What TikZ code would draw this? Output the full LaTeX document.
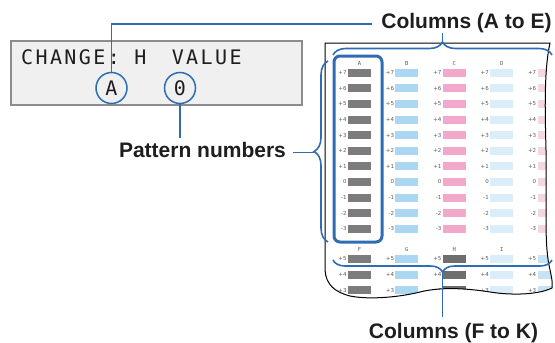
\documentclass[tikz,border=0pt]{standalone}
\usepackage{fontspec}
\setmainfont{Liberation Sans}
\newfontfamily\lcdfont{DejaVu Sans Mono}
\newfontfamily\lcdtrack[LetterSpace=12]{DejaVu Sans Mono}
\newfontfamily\tinyfont{DejaVu Sans}
\usetikzlibrary{decorations.pathreplacing,calc}
\definecolor{cblue}{HTML}{2E6DB4}
\definecolor{lcdbg}{HTML}{F0F0F1}
\definecolor{lcdborder}{HTML}{8C8C8C}
\definecolor{barA}{HTML}{7C7C7C}
\definecolor{barB}{HTML}{ABD7F2}
\definecolor{barC}{HTML}{F2A8CA}
\definecolor{barD}{HTML}{DAEDF8}
\definecolor{barE}{HTML}{F5D7E4}
\definecolor{barH}{HTML}{6E6E6E}
\definecolor{barJ}{HTML}{C6E3F6}
\definecolor{txt}{HTML}{1E1E1E}
\definecolor{rowtxt}{HTML}{5A5A5A}
\begin{document}
\begin{tikzpicture}[x=1pt,y=-1pt,
  conn/.style={draw=cblue,line width=1.5pt},
  bracestyle/.style={draw=cblue,line width=1.6pt,decorate,decoration={brace,amplitude=#1}},
  lbl/.style={font=\bfseries\fontsize{21}{24}\selectfont,text=txt,inner sep=0pt},
  lcdtext/.style={font=\lcdtrack\fontsize{20}{22}\selectfont,text=txt,inner sep=0pt},
  circ/.style={circle,draw=cblue,line width=1.5pt,fill=lcdbg,minimum size=31pt,inner sep=0pt,
    font=\lcdfont\fontsize{20}{22}\selectfont,text=txt},
  rowlab/.style={font=\tinyfont\fontsize{5.5}{6}\selectfont,text=rowtxt,inner sep=0pt,anchor=east},
  collab/.style={font=\lcdfont\fontsize{5.5}{6}\selectfont,text=rowtxt,inner sep=0pt},
  paperedge/.style={draw=black,line width=1pt},
  hl/.style={draw=cblue,line width=3pt,rounded corners=6pt}
]
\useasboundingbox (0,0) rectangle (555,343);
\fill[white] (0,0) rectangle (555,343);

% LCD panel
\node[draw=lcdborder,line width=1.6pt,fill=lcdbg,minimum width=291pt,minimum height=64pt,
  inner sep=0pt,anchor=north west] (lcd) at (10,40) {};
\node[lcdtext,anchor=base west] (lcdline) at (21,64.5) {CHANGE: H\hspace{11pt} VALUE};
\node[circ] (cA) at (111.5,88) {A};
\node[circ] (c0) at (180,88) {0};

% paper
\fill[white] (325,43) -- (550,43) .. controls (544,70) and (545,110) .. (546,150)
  .. controls (547,200) and (544,240) .. (549,265) .. controls (551,275) and (553,282) .. (552,288)
  .. controls (540,294) and (515,296) .. (490,292) .. controls (465,288) and (440,287) .. (420,292)
  .. controls (400,297) and (370,300) .. (350,296) .. controls (335,292) and (326,285) .. (325,270) -- cycle;
\begin{scope}
\clip (325,43) -- (550,43) .. controls (544,70) and (545,110) .. (546,150)
  .. controls (547,200) and (544,240) .. (549,265) .. controls (551,275) and (553,282) .. (552,288)
  .. controls (540,294) and (515,296) .. (490,292) .. controls (465,288) and (440,287) .. (420,292)
  .. controls (400,297) and (370,300) .. (350,296) .. controls (335,292) and (326,285) .. (325,270) -- cycle;
% upper block
\foreach \lab/\fc [count=\ci from 0] in {A/barA,B/barB,C/barC,D/barD,E/barE} {
  \pgfmathsetmacro\bx{348+47.4*\ci}
  \node[collab] (col\lab) at (\bx+11.5,63) {\lab};
  \foreach \v [count=\ri from 0] in {+7,+6,+5,+4,+3,+2,+1,0,-1,-2,-3} {
    \pgfmathsetmacro\by{72.7+15.6*\ri}
    \fill[\fc] (\bx,\by-4) rectangle ++(23,8);
    \node[rowlab] (n\lab\ri) at (\bx-1.2,\by) {\v};
  }
}
% lower block
\foreach \lab/\fc [count=\ci from 0] in {F/barA,G/barB,H/barH,I/barD,J/barJ} {
  \pgfmathsetmacro\bx{348+47.4*\ci}
  \node[collab] (col\lab) at (\bx+11.5,249) {\lab};
  \foreach \v [count=\ri from 0] in {+5,+4,+3} {
    \pgfmathsetmacro\by{259+15.6*\ri}
    \fill[\fc] (\bx,\by-4) rectangle ++(23,8);
    \node[rowlab] (n\lab\ri) at (\bx-1.2,\by) {\v};
  }
}
\end{scope}
\draw[paperedge] (325,43) -- (550,43) .. controls (544,70) and (545,110) .. (546,150)
  .. controls (547,200) and (544,240) .. (549,265) .. controls (551,275) and (553,282) .. (552,288)
  .. controls (540,294) and (515,296) .. (490,292) .. controls (465,288) and (440,287) .. (420,292)
  .. controls (400,297) and (370,300) .. (350,296) .. controls (335,292) and (326,285) .. (325,270) -- cycle;

% highlight of column A
\draw[hl] (334,56) rectangle (382,242);

% braces
\draw[bracestyle=13pt] (333,55) -- (552,55);
\draw[bracestyle=12pt] (552,260) -- (333,260);
\draw[bracestyle=14pt] (328,242) -- (328,61);

% labels
\node[lbl,anchor=base] (colAE) at (466.5,28) {Columns (A to E)};
\node[lbl,anchor=base] (pn) at (202.5,157.5) {Pattern numbers};
\node[lbl,anchor=base] (colFK) at (453.5,338) {Columns (F to K)};

% connector points
\coordinate (jAE) at (372,24);
\coordinate (tipAE) at (442.5,42);
\coordinate (stemAE) at (442.5,33);
\coordinate (tipFK) at (442.5,272);
\coordinate (stemFK) at (442.5,317);
\coordinate (tipL) at (314,152.5);
\coordinate (endL) at (293,152.5);
\coordinate (jPN) at (180,138);

\draw[conn] (cA.north) |- (jAE);
\draw[conn] (c0.south) -- (jPN);
\draw[conn] (tipAE) -- (stemAE);
\draw[conn] (tipFK) -- (stemFK);
\draw[conn] (tipL) -- (endL);
\end{tikzpicture}
\end{document}
